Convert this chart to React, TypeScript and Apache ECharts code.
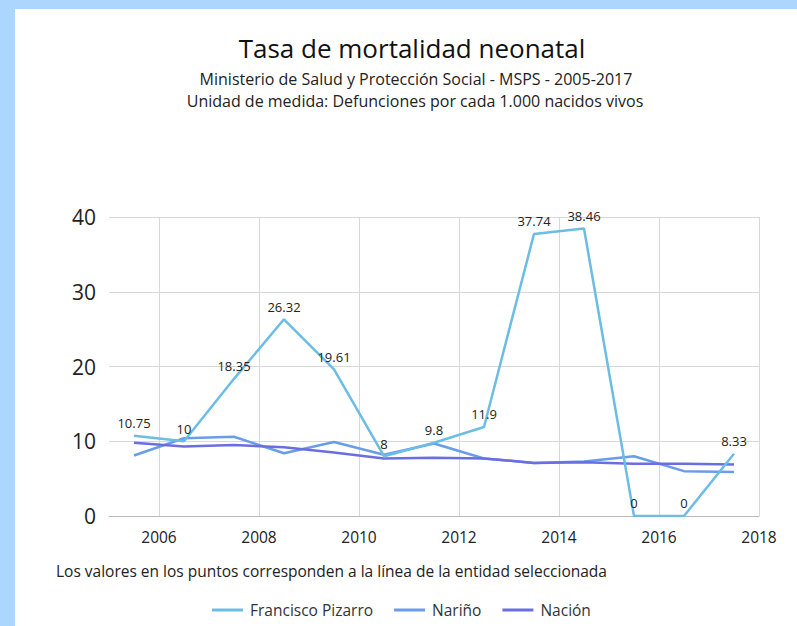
import React, { useEffect, useRef } from "react";
import * as echarts from "echarts";

const years = [2005, 2006, 2007, 2008, 2009, 2010, 2011, 2012, 2013, 2014, 2015, 2016, 2017];
const franciscoPizarro = [10.75, 10, 18.35, 26.32, 19.61, 8, 9.8, 11.9, 37.74, 38.46, 0, 0, 8.33];
const narino = [8.1, 10.4, 10.6, 8.4, 9.9, 8.2, 9.7, 7.7, 7.1, 7.3, 8.0, 6.0, 5.9];
const nacion = [9.8, 9.3, 9.5, 9.2, 8.5, 7.7, 7.8, 7.7, 7.1, 7.2, 7.0, 7.0, 6.9];
const seriesNames = ["Francisco Pizarro", "Nariño", "Nación"];
const colors = ["#6cbde3", "#6a9de8", "#6b6ee0"];
const gridYears = [2006, 2008, 2010, 2012, 2014, 2016, 2018];

const FONT = "'Open Sans', 'Noto Sans', sans-serif";

export default function App() {
  const ref = useRef<HTMLDivElement>(null);
  useEffect(() => {
    if (!ref.current) return;
    const chart = echarts.init(ref.current, undefined, { renderer: "svg" });
    const toPts = (vals: number[]) => years.map((y, i) => [y + 0.5, vals[i]]);
    const option: any = {
      animation: false,
      textStyle: { fontFamily: FONT },
      title: [
        {
          text: "Tasa de mortalidad neonatal",
          left: 407,
          top: 30,
          textAlign: "center",
          textStyle: { fontSize: 26, fontWeight: "normal", color: "#111", fontFamily: FONT },
        },
        {
          text: "Ministerio de Salud y Protección Social - MSPS - 2005-2017",
          left: 411,
          top: 66,
          textAlign: "center",
          textStyle: { fontSize: 16, fontWeight: "normal", color: "#222", fontFamily: FONT },
        },
        {
          text: "Unidad de medida: Defunciones por cada 1.000 nacidos vivos",
          left: 410,
          top: 88,
          textAlign: "center",
          textStyle: { fontSize: 16, fontWeight: "normal", color: "#222", fontFamily: FONT },
        },
      ],
      graphic: [
        { type: "rect", shape: { x: 0, y: 0, width: 797, height: 9 }, style: { fill: "#acd6fd" }, silent: true },
        { type: "rect", shape: { x: 0, y: 0, width: 15, height: 626 }, style: { fill: "#acd6fd" }, silent: true },
        {
          type: "text",
          left: 56,
          top: 563,
          style: {
            text: "Los valores en los puntos corresponden a la línea de la entidad seleccionada",
            fontSize: 15.5,
            fill: "#222",
            fontFamily: FONT,
          },
        },
      ],
      legend: {
        bottom: 3,
        left: 207,
        itemWidth: 31,
        itemHeight: 3,
        itemGap: 21,
        icon: "rect",
        textStyle: { fontSize: 15.5, color: "#333", fontFamily: FONT, padding: [0, 0, 0, 2] },
        data: seriesNames,
      },
      grid: { left: 109, right: 38, top: 217, bottom: 110 },
      xAxis: {
        type: "value",
        min: 2005,
        max: 2018,
        interval: 1,
        axisLine: { show: true, lineStyle: { color: "#bbb" } },
        axisTick: { show: false },
        splitLine: { show: false },
        axisLabel: {
          fontSize: 15.5,
          color: "#222",
          margin: 13,
          formatter: (v: number) => (v % 2 === 0 ? String(v) : ""),
        },
      },
      yAxis: {
        type: "value",
        min: 0,
        max: 40,
        interval: 10,
        axisLine: { show: false },
        axisTick: { show: false },
        axisLabel: { fontSize: 21, color: "#222", margin: 13 },
        splitLine: { lineStyle: { color: "#d8d8d8" } },
      },
      series: [
        {
          name: seriesNames[0],
          type: "line",
          data: toPts(franciscoPizarro),
          color: colors[0],
          lineStyle: { width: 2.5, color: colors[0] },
          symbol: "circle",
          symbolSize: 0.1,
          showSymbol: true,
          z: 4,
          label: {
            show: true,
            position: "top",
            distance: 6,
            fontSize: 13,
            color: "#222",
            fontFamily: FONT,
          },
          markLine: {
            silent: true,
            symbol: "none",
            label: { show: false },
            lineStyle: { color: "#d8d8d8", type: "solid", width: 1 },
            data: gridYears.map((y) => ({ xAxis: y })),
            z: 1,
          },
        },
        {
          name: seriesNames[1],
          type: "line",
          data: toPts(narino),
          color: colors[1],
          lineStyle: { width: 2.5, color: colors[1] },
          showSymbol: false,
          z: 3,
        },
        {
          name: seriesNames[2],
          type: "line",
          data: toPts(nacion),
          color: colors[2],
          lineStyle: { width: 2.5, color: colors[2] },
          showSymbol: false,
          z: 3,
        },
      ],
    };
    chart.setOption(option);
    return () => chart.dispose();
  }, []);
  return (
    <div style={{ position: "fixed", left: 0, top: 0, width: 797, height: 626, background: "#fff" }}>
      <div ref={ref} style={{ width: 797, height: 626 }} />
    </div>
  );
}
